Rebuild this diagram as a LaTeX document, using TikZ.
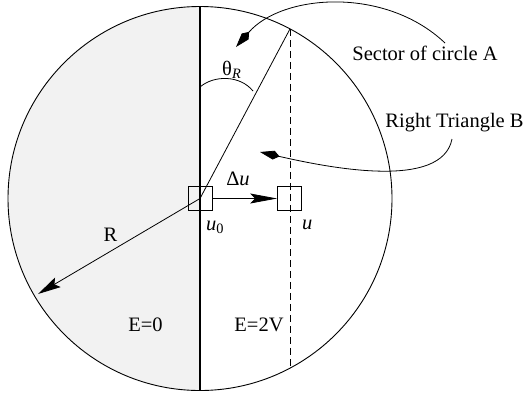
\documentclass[tikz,border=0pt]{standalone}
\usepackage{fontspec}
\setmainfont{Liberation Serif}
\usetikzlibrary{arrows.meta}
\begin{document}
\begin{tikzpicture}[x=1pt,y=-1pt,
  lbl/.style={font=\fontsize{20.5}{24}\selectfont, inner sep=0pt},
  thinline/.style={line width=0.8pt},
  cell/.style={draw, line width=0.8pt, minimum size=24pt, inner sep=0pt},
  kitetip/.style={-{Kite[length=20pt,width=9pt,inset=6pt]}},
  stealthtip/.style={-{Stealth[length=23pt,width=11pt,inset=4pt]}},
  dashline/.style={line width=0.8pt, dash pattern=on 7pt off 4pt}]
\useasboundingbox (0,0) rectangle (527,397);
% left half shading
\fill[black!5] (200,6.5) arc[start angle=270, end angle=90, radius=192] -- cycle;
% circle
\node[circle, draw, line width=0.9pt, minimum size=384pt, inner sep=0pt] (C) at (200,198.5) {};
% key points
\coordinate (vtop) at (200,6.5);
\coordinate (vbot) at (200,390.5);
\coordinate (ctop) at (290,28.9);
\coordinate (cbot) at (290,368.1);
\coordinate (rtip) at (38,294);
\coordinate (thS) at (200,87);
\coordinate (thE) at (253,91);
\coordinate (sA) at (445,43);
\coordinate (tA) at (236,47);
\coordinate (sB) at (452,139);
\coordinate (tB) at (260,152);
% boxes
\node[cell] (b0) at (200,198.5) {};
\node[cell] (b1) at (289.5,198.5) {};
% dividing line
\draw[line width=2.2pt] (vtop) -- (vbot);
% chord
\draw[dashline] (ctop) -- (cbot);
% hypotenuse
\draw[thinline] (b0.center) -- (ctop);
% theta arc
\draw[thinline] (thS) .. controls (214,75) and (240,75) .. (thE);
% radius arrow
\draw[thinline, stealthtip] (b0.center) -- (rtip);
% delta u arrow
\draw[thinline, -{Stealth[length=27pt,width=10pt,inset=5pt]}] (b0.east) -- (b1.west);
% callout arrows
\draw[thinline, kitetip] (sA) .. controls (385,-14) and (282,-6) .. (tA);
\draw[thinline, kitetip] (sB) .. controls (442,190) and (330,168) .. (tB);
% labels
\node[lbl, anchor=base] (labA) at (425,60) {Sector of circle A};
\node[lbl, anchor=base] (labB) at (454.5,127) {Right Triangle B};
\node[lbl, anchor=base west] (theta) at (222,75) {θ\textsubscript{\textit{R}}};
\node[lbl, anchor=base] (du) at (238,185) {Δ\textit{u}};
\node[lbl, anchor=base west] (u0) at (206,230) {\textit{u}\textsubscript{0}};
\node[lbl, anchor=base west] (u) at (302,229) {\textit{u}};
\node[lbl, anchor=base] (Rl) at (110.5,241.5) {R};
\node[lbl, anchor=base] (E0) at (145.5,331.5) {E=0};
\node[lbl, anchor=base] (E2) at (259,331.5) {E=2V};
\end{tikzpicture}
\end{document}
